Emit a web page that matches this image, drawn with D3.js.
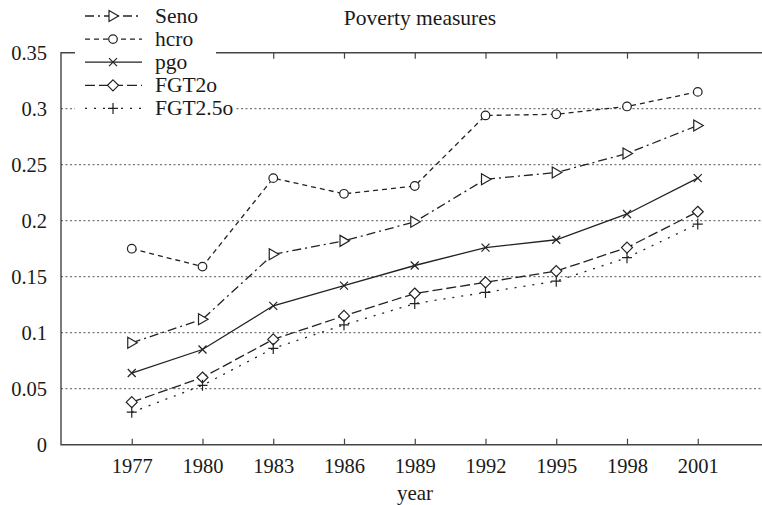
<!DOCTYPE html>
<html>
<head>
<meta charset="utf-8">
<script src="https://cdn.jsdelivr.net/npm/d3@7"></script>
<style>
  html, body { margin: 0; padding: 0; background: #fff; }
  svg { display: block; }
  text { font-family: "Liberation Serif", "Times New Roman", serif; fill: #1a1a1a; }
</style>
</head>
<body>
<svg id="chart" width="762" height="505"></svg>
<script>
// Survey years (evenly spaced categories on the x axis)
const years = ["1977", "1980", "1983", "1986", "1989", "1992", "1995", "1998", "2001"];

// Poverty measure series, one value per year
const seno   = [0.091, 0.112, 0.170, 0.182, 0.199, 0.237, 0.243, 0.260, 0.285];
const hcro   = [0.175, 0.159, 0.238, 0.224, 0.231, 0.294, 0.295, 0.302, 0.315];
const pgo    = [0.064, 0.085, 0.124, 0.142, 0.160, 0.176, 0.183, 0.206, 0.238];
const fgt2o  = [0.038, 0.060, 0.094, 0.115, 0.135, 0.145, 0.155, 0.176, 0.208];
const fgt25o = [0.029, 0.053, 0.086, 0.107, 0.126, 0.136, 0.146, 0.167, 0.197];

const seriesNames = ["Seno", "hcro", "pgo", "FGT2o", "FGT2.5o"];
const yTicks = [0, 0.05, 0.1, 0.15, 0.2, 0.25, 0.3, 0.35];
const yTickLabels = ["0", "0.05", "0.1", "0.15", "0.2", "0.25", "0.3", "0.35"];

const svg = d3.select("#chart");
const plotLeft = 61, plotTop = 52.7, plotBottom = 444.7, plotRight = 768.5;

const x = d3.scalePoint().domain(years).range([plotLeft, plotRight]).padding(1);
const y = d3.scaleLinear().domain([0, 0.35]).range([plotBottom, plotTop]);

// Marker shapes
const markers = {
  triangle: "M-4,-5.5L5.5,0L-4,5.5Z",
  circle: d3.symbol(d3.symbolCircle, Math.PI * 4.3 * 4.3)(),
  cross: "M-4,-4L4,4M-4,4L4,-4",
  diamond: "M0,-5.5L5.5,0L0,5.5L-5.5,0Z",
  plus: "M-5,0L5,0M0,-5.5L0,5.5"
};

const series = [
  { name: seriesNames[0], values: seno,   dash: "9,4,2,4", marker: "triangle" },
  { name: seriesNames[1], values: hcro,   dash: "5,4",     marker: "circle" },
  { name: seriesNames[2], values: pgo,    dash: null,      marker: "cross" },
  { name: seriesNames[3], values: fgt2o,  dash: "10,4",    marker: "diamond" },
  { name: seriesNames[4], values: fgt25o, dash: "2,7",     marker: "plus" }
];

// Horizontal dotted grid
svg.append("g")
  .selectAll("line")
  .data(yTicks.filter(v => v > 0 && v < 0.35))
  .join("line")
  .attr("x1", plotLeft).attr("x2", plotRight)
  .attr("y1", d => y(d)).attr("y2", d => y(d))
  .attr("stroke", "#555")
  .attr("stroke-width", 1)
  .attr("stroke-dasharray", "2,2.5");

// Series lines and markers
const line = d3.line()
  .x((d, i) => x(years[i]))
  .y(d => y(d));

const gSeries = svg.append("g");
series.forEach(s => {
  gSeries.append("path")
    .attr("d", line(s.values))
    .attr("fill", "none")
    .attr("stroke", "#222")
    .attr("stroke-width", 1.3)
    .attr("stroke-dasharray", s.dash);
  gSeries.append("g")
    .selectAll("path")
    .data(s.values)
    .join("path")
    .attr("transform", (d, i) => `translate(${x(years[i])},${y(d)})`)
    .attr("d", markers[s.marker])
    .attr("fill", "#fff")
    .attr("stroke", "#222")
    .attr("stroke-width", 1.2);
});

// Axes
const axisStyle = g => {
  g.select(".domain").remove();
  g.selectAll(".tick line").attr("stroke", "#444").attr("stroke-width", 1.2);
  g.selectAll(".tick text")
    .style("font-family", "'Liberation Serif', serif")
    .style("font-size", "20.5px")
    .attr("fill", "#1a1a1a");
};

svg.append("g")
  .attr("transform", `translate(0,${plotBottom})`)
  .call(d3.axisBottom(x).tickSize(-6).tickPadding(14))
  .call(axisStyle);

svg.append("g")
  .attr("transform", `translate(0,${plotTop})`)
  .call(d3.axisTop(x).tickSize(-6).tickFormat(""))
  .call(axisStyle);

svg.append("g")
  .attr("transform", `translate(${plotLeft},0)`)
  .call(d3.axisLeft(y).tickValues(yTicks).tickSize(0).tickPadding(14)
    .tickFormat((d, i) => yTickLabels[i]))
  .call(axisStyle);

// Frame
svg.append("path")
  .attr("d", `M${plotRight},${plotTop}H${plotLeft}V${plotBottom}H${plotRight}`)
  .attr("fill", "none")
  .attr("stroke", "#444")
  .attr("stroke-width", 1.4);

// Key
const key = svg.append("g");
key.append("rect")
  .attr("x", 75).attr("y", 0)
  .attr("width", 141).attr("height", 118)
  .attr("fill", "#fff");

series.forEach((s, i) => {
  const ry = 16 + i * 23.1;
  const row = key.append("g");
  const label = row.append("text")
    .attr("x", 155).attr("y", ry + 7)
    .style("font-size", "21.5px")
    .text(s.name);
  const bb = label.node().getBBox();
  row.insert("rect", "text")
    .attr("x", bb.x - 2).attr("y", ry - 6)
    .attr("width", bb.width + 4).attr("height", 12)
    .attr("fill", "#fff");
  row.append("line")
    .attr("x1", 85).attr("x2", 142)
    .attr("y1", ry).attr("y2", ry)
    .attr("stroke", "#222")
    .attr("stroke-width", 1.3)
    .attr("stroke-dasharray", s.dash);
  row.append("path")
    .attr("transform", `translate(113,${ry})`)
    .attr("d", markers[s.marker])
    .attr("fill", "#fff")
    .attr("stroke", "#222")
    .attr("stroke-width", 1.2);
});

// Titles
svg.append("text")
  .attr("x", 420).attr("y", 25)
  .attr("text-anchor", "middle")
  .style("font-size", "21.5px")
  .text("Poverty measures");

svg.append("text")
  .attr("x", 415).attr("y", 500)
  .attr("text-anchor", "middle")
  .style("font-size", "21px")
  .text("year");
</script>
</body>
</html>
